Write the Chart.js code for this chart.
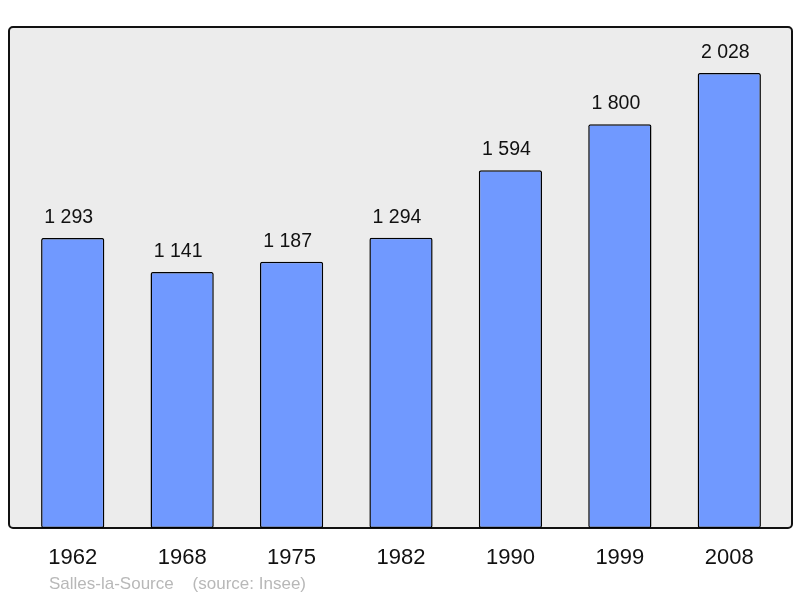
<!DOCTYPE html>
<html>
<head>
<meta charset="utf-8">
<script src="https://cdn.jsdelivr.net/npm/chart.js@4/dist/chart.umd.min.js"></script>
<style>
  html, body { margin: 0; padding: 0; background: #ffffff; }
  #wrap { width: 800px; height: 598px; position: relative; }
</style>
</head>
<body>
<div id="wrap"><canvas id="popChart" width="800" height="598"></canvas></div>
<script>
// Population data (Insee)
const years = ['1962', '1968', '1975', '1982', '1990', '1999', '2008'];
const population = [1293, 1141, 1187, 1294, 1594, 1800, 2028];
const townName = 'Salles-la-Source';
const sourceText = '(source: Insee)';

const FONT = '"Liberation Sans", Arial, sans-serif';

// Format number with a space as thousands separator
function formatPop(v) {
    return String(v).replace(/\B(?=(\d{3})+(?!\d))/g, ' ');
}

// Grey rounded panel behind the bars
const panelPlugin = {
    id: 'panel',
    beforeDraw(chart) {
        const { ctx, chartArea } = chart;
        const x = chartArea.left - 9, y = chartArea.top;
        const w = chartArea.right - chartArea.left + 17;
        const h = chartArea.bottom - chartArea.top;
        ctx.save();
        ctx.beginPath();
        ctx.roundRect(x, y, w, h, 4);
        ctx.fillStyle = '#ececec';
        ctx.fill();
        ctx.lineWidth = 2;
        ctx.strokeStyle = '#111111';
        ctx.stroke();
        ctx.restore();
    }
};

// Value labels above bars + footer text
const labelPlugin = {
    id: 'labels',
    afterDatasetsDraw(chart) {
        const { ctx } = chart;
        const meta = chart.getDatasetMeta(0);
        ctx.save();
        ctx.fillStyle = '#111111';
        ctx.font = '19.5px ' + FONT;
        ctx.textAlign = 'center';
        ctx.textBaseline = 'alphabetic';
        meta.data.forEach((bar, i) => {
            ctx.fillText(formatPop(population[i]), bar.x - 4, bar.y - 15);
        });
        ctx.font = '17px ' + FONT;
        ctx.fillStyle = '#b8b8b8';
        ctx.textAlign = 'left';
        ctx.textBaseline = 'middle';
        ctx.fillText(townName + '    ' + sourceText, 49, 584);
        ctx.restore();
    }
};

new Chart(document.getElementById('popChart'), {
    type: 'bar',
    data: {
        labels: years,
        datasets: [{
            data: population,
            backgroundColor: '#7099ff',
            borderColor: '#000000',
            borderWidth: 1.5,
            borderRadius: 2,
            borderSkipped: false,
            barPercentage: 0.578,
            categoryPercentage: 1
        }]
    },
    options: {
        responsive: false,
        animation: false,
        layout: { padding: { left: 18, right: 16, top: 27, bottom: 0 } },
        plugins: {
            legend: { display: false },
            tooltip: { enabled: false }
        },
        scales: {
            x: {
                grid: { display: false, drawTicks: false },
                border: { display: false },
                ticks: {
                    color: '#111111',
                    font: { family: FONT, size: 22 },
                    padding: 17
                },
                afterFit(scale) { scale.height = 70; }
            },
            y: {
                display: false,
                min: 0,
                max: 2233
            }
        }
    },
    plugins: [panelPlugin, labelPlugin]
});
</script>
</body>
</html>
